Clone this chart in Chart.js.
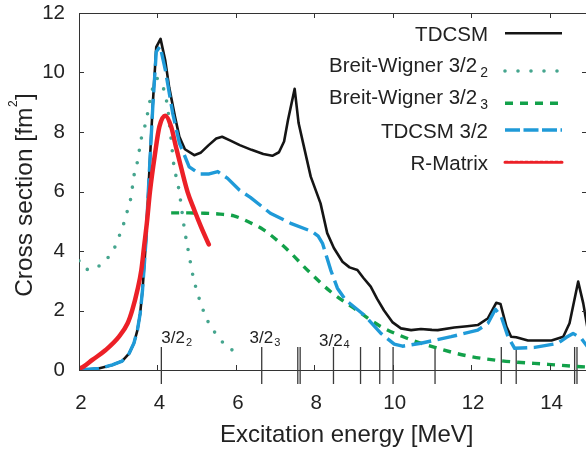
<!DOCTYPE html>
<html>
<head>
<meta charset="utf-8">
<script src="https://cdn.jsdelivr.net/npm/chart.js@4/dist/chart.umd.min.js"></script>
<style>
  html, body { margin: 0; padding: 0; background: #fff; overflow: hidden; }
  #wrap { width: 586px; height: 450px; }
</style>
</head>
<body>
<div id="wrap"><canvas id="chart" width="586" height="450"></canvas></div>
<script>
// TDCSM (full)
const tdcsmE = [2.0, 2.5, 2.85, 3.1, 3.28, 3.4, 3.49, 3.56, 3.62, 3.71, 3.76, 3.88, 3.97, 4.08, 4.2, 4.3, 4.45, 4.56, 4.7, 4.94, 5.1, 5.3, 5.5, 5.65, 5.85, 6.1, 6.4, 6.7, 6.93, 7.1, 7.23, 7.33, 7.5, 7.6, 7.72, 7.91, 8.16, 8.33, 8.5, 8.72, 8.9, 9.1, 9.25, 9.44, 9.6, 9.78, 10.0, 10.21, 10.47, 10.72, 11.0, 11.15, 11.57, 11.9, 12.17, 12.43, 12.64, 12.75, 12.9, 13.02, 13.15, 13.45, 14.05, 14.35, 14.51, 14.73, 14.86, 14.97];
const tdcsmY = [0.0, 0.05, 0.17, 0.3, 0.56, 0.9, 1.34, 1.9, 2.69, 4.37, 5.8, 8.9, 10.85, 11.13, 10.4, 9.5, 8.5, 7.84, 7.42, 7.22, 7.3, 7.55, 7.78, 7.84, 7.72, 7.56, 7.4, 7.26, 7.2, 7.32, 7.68, 8.4, 9.45, 8.3, 7.6, 6.5, 5.6, 4.6, 4.1, 3.64, 3.45, 3.36, 3.1, 2.8, 2.4, 2.0, 1.6, 1.4, 1.34, 1.38, 1.35, 1.34, 1.43, 1.47, 1.51, 1.74, 2.26, 2.22, 1.46, 1.12, 1.1, 0.99, 0.99, 1.12, 1.57, 2.97, 2.24, 1.4];

// Breit-Wigner 3/2_2
const bw2E = [2.0, 2.1, 2.26, 2.55, 2.77, 2.94, 3.05, 3.15, 3.24, 3.32, 3.41, 3.49, 3.59, 3.68, 3.75, 3.81, 3.88, 3.98, 4.05, 4.11, 4.2, 4.26, 4.33, 4.43, 4.5, 4.56, 4.69, 4.8, 4.92, 5.0, 5.09, 5.2, 5.32, 5.5, 5.71, 5.96];
const bw2Y = [3.67, 3.45, 3.38, 3.53, 3.83, 4.2, 4.59, 4.96, 5.38, 5.77, 6.59, 7.0, 7.79, 8.2, 8.63, 9.05, 9.47, 9.8, 9.75, 9.63, 9.24, 8.83, 8.0, 6.78, 6.39, 5.96, 4.73, 3.92, 3.08, 2.69, 2.3, 1.9, 1.55, 1.2, 0.87, 0.62];

// Breit-Wigner 3/2_3
const bw3E = [4.35, 4.8, 5.2, 5.6, 5.95, 6.37, 6.71, 7.27, 7.87, 8.42, 9.02, 9.7, 10.38, 11.15, 11.92, 12.77, 13.96, 14.81, 14.97];
const bw3Y = [5.28, 5.28, 5.27, 5.24, 5.18, 4.95, 4.71, 4.1, 3.3, 2.63, 2.07, 1.46, 1.06, 0.73, 0.47, 0.31, 0.19, 0.11, 0.1];

// TDCSM 3/2
const td32E = [2.0, 2.5, 2.85, 3.1, 3.28, 3.4, 3.49, 3.56, 3.62, 3.71, 3.76, 3.88, 3.97, 4.07, 4.2, 4.39, 4.56, 4.81, 5.07, 5.32, 5.54, 5.79, 6.09, 6.37, 6.88, 7.4, 7.95, 8.1, 8.21, 8.42, 8.59, 8.8, 9.27, 9.7, 10.04, 10.25, 10.72, 11.49, 12.17, 12.43, 12.62, 12.77, 12.94, 13.11, 13.62, 14.22, 14.43, 14.6, 14.81, 14.97];
const td32Y = [0.0, 0.05, 0.17, 0.3, 0.56, 0.9, 1.34, 1.9, 2.69, 4.37, 5.8, 8.8, 10.7, 10.88, 10.1, 8.63, 7.63, 6.83, 6.59, 6.59, 6.67, 6.44, 6.05, 5.8, 5.27, 4.93, 4.65, 4.5, 4.26, 3.36, 2.75, 2.35, 1.85, 1.23, 0.87, 0.8, 0.9, 1.12, 1.34, 1.57, 2.04, 1.79, 1.12, 0.73, 0.76, 0.9, 1.1, 1.23, 1.06, 0.78];

// R-Matrix
const rmE = [2.0, 2.1, 2.34, 2.68, 3.02, 3.24, 3.36, 3.49, 3.59, 3.66, 3.73, 3.81, 3.94, 4.05, 4.2, 4.35, 4.47, 4.6, 4.77, 4.94, 5.11, 5.31];
const rmY = [0.05, 0.1, 0.34, 0.67, 1.12, 1.57, 2.02, 2.69, 3.36, 4.15, 4.93, 6.0, 7.28, 8.18, 8.55, 8.18, 7.51, 6.83, 5.98, 5.38, 4.82, 4.22];

// 3/2 levels (vertical markers) and their labels
const levelE = [4.10, 6.66, 7.58, 7.64, 8.49, 9.18, 9.67, 10.01, 11.08, 12.77, 13.15, 14.64, 14.70];
const levelTop = 0.77, levelBottom = -0.47;
const levelLabelE = [4.10, 6.35, 8.12];
const levelLabelY = [0.9, 0.9, 0.82];
const levelLabelSub = ['2', '3', '4'];

const legendNames = ['TDCSM', 'Breit-Wigner 3/2', 'Breit-Wigner 3/2', 'TDCSM 3/2', 'R-Matrix'];
const legendSubs = ['', '2', '3', '', ''];

const xTicks = [2, 4, 6, 8, 10, 12, 14];
const yTicks = [0, 2, 4, 6, 8, 10, 12];

function pts(xs, ys) { return xs.map((x, i) => ({ x: x, y: ys[i] })); }

const levelPts = [];
levelE.forEach(e => {
    levelPts.push({ x: e, y: levelTop }, { x: e, y: levelBottom }, { x: e, y: null });
});

const FONT = "'Liberation Sans', Arial, Helvetica, sans-serif";

const decor = {
    id: 'decor',
    afterDraw(chart) {
        const ctx = chart.ctx;
        const a = chart.chartArea;
        const xs = chart.scales.x, ys = chart.scales.y;
        ctx.save();

        // top frame line + inward ticks
        ctx.strokeStyle = '#333';
        ctx.lineWidth = 1;
        ctx.beginPath();
        ctx.moveTo(a.left, a.top + 0.5); ctx.lineTo(a.right, a.top + 0.5);
        xTicks.forEach(t => {
            const px = Math.round(xs.getPixelForValue(t)) + 0.5;
            ctx.moveTo(px, a.bottom); ctx.lineTo(px, a.bottom - 5);
            ctx.moveTo(px, a.top); ctx.lineTo(px, a.top + 5);
        });
        yTicks.forEach(t => {
            const py = Math.round(ys.getPixelForValue(t)) + 0.5;
            ctx.moveTo(a.left, py); ctx.lineTo(a.left + 5, py);
            ctx.moveTo(a.right, py); ctx.lineTo(a.right - 4, py);
        });
        ctx.stroke();

        // level labels
        ctx.fillStyle = '#222';
        ctx.textBaseline = 'alphabetic';
        ctx.textAlign = 'left';
        levelLabelE.forEach((e, i) => {
            const px = xs.getPixelForValue(e), py = ys.getPixelForValue(levelLabelY[i]);
            ctx.font = '17px ' + FONT;
            ctx.fillText('3/2', px, py);
            const w = ctx.measureText('3/2').width;
            ctx.font = '11px ' + FONT;
            ctx.fillText(levelLabelSub[i], px + w + 1, py + 2.5);
        });

        // legend (text right aligned, sample on the right)
        const rowY = [33.3, 71, 103.3, 130, 162.3];
        const textRight = 488, s0 = 505, s1 = 562;
        chart.data.datasets.slice(0, 5).forEach((ds, i) => {
            const y = rowY[i];
            const name = legendNames[i], sub = legendSubs[i];
            ctx.fillStyle = '#222';
            ctx.textAlign = 'left';
            ctx.font = '20.5px ' + FONT;
            const wMain = ctx.measureText(name).width;
            ctx.font = '14px ' + FONT;
            const wSub = sub ? ctx.measureText(sub).width + 3 : 0;
            const x0 = textRight - wMain - wSub;
            ctx.font = '20.5px ' + FONT;
            const base = sub ? y + 0.5 : y + 7.5;
            ctx.fillText(name, x0, base);
            if (sub) {
                ctx.font = '14px ' + FONT;
                ctx.fillText(sub, x0 + wMain + 3, base + 5);
            }
            ctx.strokeStyle = ds.borderColor;
            ctx.lineWidth = ds.legendWidth || ds.borderWidth;
            ctx.lineCap = ds.borderCapStyle || 'butt';
            ctx.setLineDash(ds.legendDash || []);
            ctx.beginPath();
            ctx.moveTo(s0, y); ctx.lineTo(s1, y);
            ctx.stroke();
            ctx.setLineDash([]);
        });
        ctx.lineCap = 'butt';

        // x axis title
        ctx.fillStyle = '#222';
        ctx.font = '24px ' + FONT;
        ctx.textAlign = 'center';
        ctx.fillText('Excitation energy [MeV]', 346.7, 441.7);

        // y axis title with superscript
        ctx.translate(31.7, 195);
        ctx.rotate(-Math.PI / 2);
        ctx.textAlign = 'left';
        const p1 = 'Cross section [fm', p2 = '2', p3 = ']';
        ctx.font = '24.5px ' + FONT;
        const w1 = ctx.measureText(p1).width, w3 = ctx.measureText(p3).width;
        ctx.font = '12px ' + FONT;
        const w2 = ctx.measureText(p2).width;
        const total = w1 + w2 + 1 + w3;
        let u = -total / 2;
        ctx.font = '24.5px ' + FONT;
        ctx.fillText(p1, u, 0);
        ctx.font = '12px ' + FONT;
        ctx.fillText(p2, u + w1 + 0.5, -15);
        ctx.font = '24.5px ' + FONT;
        ctx.fillText(p3, u + w1 + w2 + 1, 0);

        ctx.restore();
    }
};

new Chart(document.getElementById('chart').getContext('2d'), {
    type: 'line',
    data: {
        datasets: [
            {
                label: 'TDCSM', data: pts(tdcsmE, tdcsmY),
                borderColor: '#151515', borderWidth: 2.6, tension: 0,
                borderJoinStyle: 'round', order: 5
            },
            {
                label: 'Breit-Wigner 3/2_2', data: pts(bw2E, bw2Y),
                borderColor: '#45a58e', borderWidth: 3.6, borderDash: [0, 12.5],
                borderCapStyle: 'round', cubicInterpolationMode: 'monotone',
                legendDash: [0, 13], order: 4
            },
            {
                label: 'Breit-Wigner 3/2_3', data: pts(bw3E, bw3Y),
                borderColor: '#12a14a', borderWidth: 3.4, borderDash: [8, 7],
                cubicInterpolationMode: 'monotone', legendDash: [8, 7], order: 3
            },
            {
                label: 'TDCSM 3/2', data: pts(td32E, td32Y),
                borderColor: '#1f9ad8', borderWidth: 3.4, borderDash: [20, 6.5],
                tension: 0, borderJoinStyle: 'round', legendDash: [15, 3.5], order: 2
            },
            {
                label: 'R-Matrix', data: pts(rmE, rmY),
                borderColor: '#ec2027', borderWidth: 4.5, cubicInterpolationMode: 'monotone',
                borderCapStyle: 'round', legendDash: [3, 2], legendWidth: 3, order: 1
            },
            {
                label: 'levels', data: levelPts,
                borderColor: '#3a3a3a', borderWidth: 1.3, spanGaps: false,
                clip: false, order: 6
            }
        ]
    },
    options: {
        responsive: false,
        animation: false,
        devicePixelRatio: 1,
        layout: { padding: { top: 13, right: 0, left: 0, bottom: 0 } },
        elements: { point: { radius: 0 } },
        plugins: { legend: { display: false }, tooltip: { enabled: false } },
        scales: {
            x: {
                type: 'linear', min: 2, max: 14.93,
                afterFit: s => { s.height = 80; s.paddingLeft = 0; s.paddingRight = 0; },
                grid: { display: false, drawTicks: false },
                border: { display: true, color: '#333', width: 1 },
                ticks: {
                    stepSize: 2, includeBounds: false, maxRotation: 0, padding: 21, labelOffset: 2,
                    color: '#222', font: { family: FONT, size: 20.5 }
                }
            },
            y: {
                min: 0, max: 12,
                afterFit: s => { s.width = 79; s.paddingTop = 0; s.paddingBottom = 0; },
                grid: { display: false, drawTicks: false },
                border: { display: true, color: '#333', width: 1 },
                ticks: {
                    stepSize: 2, padding: 14,
                    color: '#222', font: { family: FONT, size: 20.5 }
                }
            }
        }
    },
    plugins: [decor]
});
</script>
</body>
</html>
